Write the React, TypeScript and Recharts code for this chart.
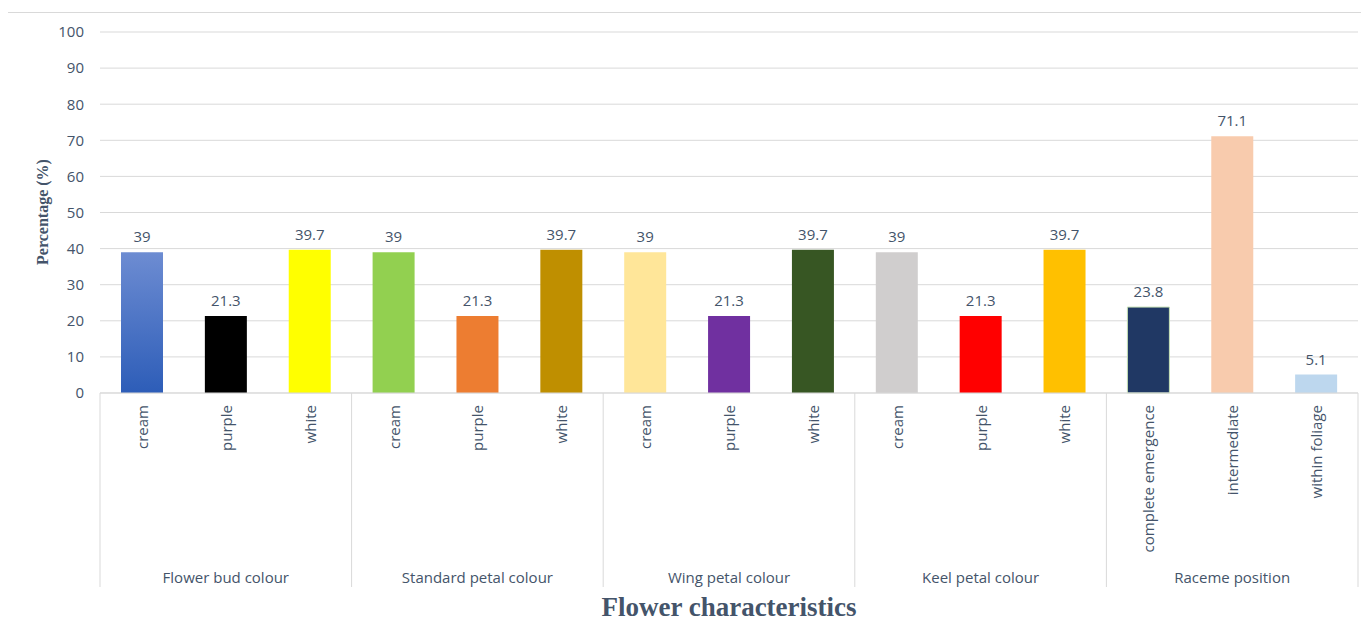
import React from 'react';
import { BarChart, Bar, XAxis, YAxis, CartesianGrid, Cell, LabelList } from 'recharts';

const groups = ['Flower bud colour', 'Standard petal colour', 'Wing petal colour', 'Keel petal colour', 'Raceme position'];
const categories = [
  'cream', 'purple', 'white',
  'cream', 'purple', 'white',
  'cream', 'purple', 'white',
  'cream', 'purple', 'white',
  'complete emergence', 'intermediate', 'within foliage',
];
const values = [39, 21.3, 39.7, 39, 21.3, 39.7, 39, 21.3, 39.7, 39, 21.3, 39.7, 23.8, 71.1, 5.1];
const barColors = [
  'url(#budCream)', '#000000', '#ffff00',
  '#92d050', '#ed7d31', '#bf8f00',
  '#ffe699', '#7030a0', '#375623',
  '#d0cece', '#ff0000', '#ffc000',
  '#203864', '#f8cbad', '#bdd7ee',
];
const yTicks = [0, 10, 20, 30, 40, 50, 60, 70, 80, 90, 100];

const W = 1358;
const H = 628;
const M = { top: 19, right: 8, left: 0, bottom: 0 };
const Y_W = 92;
const PLOT_W = W - M.left - M.right - Y_W;
const BAND = PLOT_W / categories.length;
const TEXT = '#44546a';
const GRID = '#d9d9d9';
const FONT = '"Open Sans", sans-serif';

const data = categories.map((name, i) => ({
  key: `${i}`,
  name,
  group: groups[Math.floor(i / 3)],
  value: values[i],
}));

const CategoryTick = (props: any) => {
  const { x, y, index } = props;
  const d = data[index];
  const y0 = y + 12;
  return (
    <g>
      <text
        x={x}
        y={y0}
        transform={`rotate(-90, ${x}, ${y0})`}
        textAnchor="end"
        dominantBaseline="central"
        fill={TEXT}
        fontSize={15}
        fontFamily={FONT}
      >
        {d.name}
      </text>
      {index % 3 === 1 && (
        <text x={x} y={y + 184} textAnchor="middle" dominantBaseline="central" fill={TEXT} fontSize={15} fontFamily={FONT}>
          {d.group}
        </text>
      )}
      {index % 3 === 0 && <line x1={x - BAND / 2} x2={x - BAND / 2} y1={y} y2={y + 194} stroke={GRID} />}
      {index === categories.length - 1 && <line x1={x + BAND / 2} x2={x + BAND / 2} y1={y} y2={y + 194} stroke={GRID} />}
    </g>
  );
};

export default function App() {
  return (
    <div
      style={{
        position: 'relative',
        width: W,
        height: H,
        marginTop: 4,
        marginLeft: -1,
        border: `1px solid ${GRID}`,
        background: '#fff',
      }}
    >
      <BarChart width={W} height={H} data={data} margin={M}>
        <defs>
          <linearGradient id="budCream" x1="0" y1="0" x2="0" y2="1">
            <stop offset="0%" stopColor="#6d8cd2" />
            <stop offset="100%" stopColor="#2d5db8" />
          </linearGradient>
        </defs>
        <CartesianGrid vertical={false} stroke={GRID} />
        <XAxis
          dataKey="key"
          interval={0}
          height={H - 380}
          tickLine={false}
          tickSize={0}
          tickMargin={0}
          axisLine={{ stroke: GRID }}
          tick={<CategoryTick />}
        />
        <YAxis
          width={Y_W}
          domain={[0, 100]}
          ticks={yTicks}
          interval={0}
          axisLine={false}
          tickLine={false}
          tickSize={0}
          tickMargin={16}
          tick={{ fill: TEXT, fontSize: 15, fontFamily: FONT }}
        />
        <Bar dataKey="value" barSize={42} isAnimationActive={false}>
          {data.map((d, i) => (
            <Cell key={d.key} fill={barColors[i]} stroke={i === 12 ? '#c5e0b4' : 'none'} />
          ))}
          <LabelList dataKey="value" position="top" offset={10} fill={TEXT} fontSize={15} fontFamily={FONT} />
        </Bar>
      </BarChart>
      <div
        style={{
          position: 'absolute',
          left: 35,
          top: 199,
          transform: 'translate(-50%, -50%) rotate(-90deg)',
          whiteSpace: 'nowrap',
          fontFamily: '"Liberation Serif", serif',
          fontWeight: 'bold',
          fontSize: 16,
          color: TEXT,
        }}
      >
        Percentage (%)
      </div>
      <div
        style={{
          position: 'absolute',
          left: 721,
          top: 594,
          transform: 'translate(-50%, -50%)',
          whiteSpace: 'nowrap',
          fontFamily: '"Liberation Serif", serif',
          fontWeight: 'bold',
          fontSize: 27,
          color: TEXT,
        }}
      >
        Flower characteristics
      </div>
    </div>
  );
}
